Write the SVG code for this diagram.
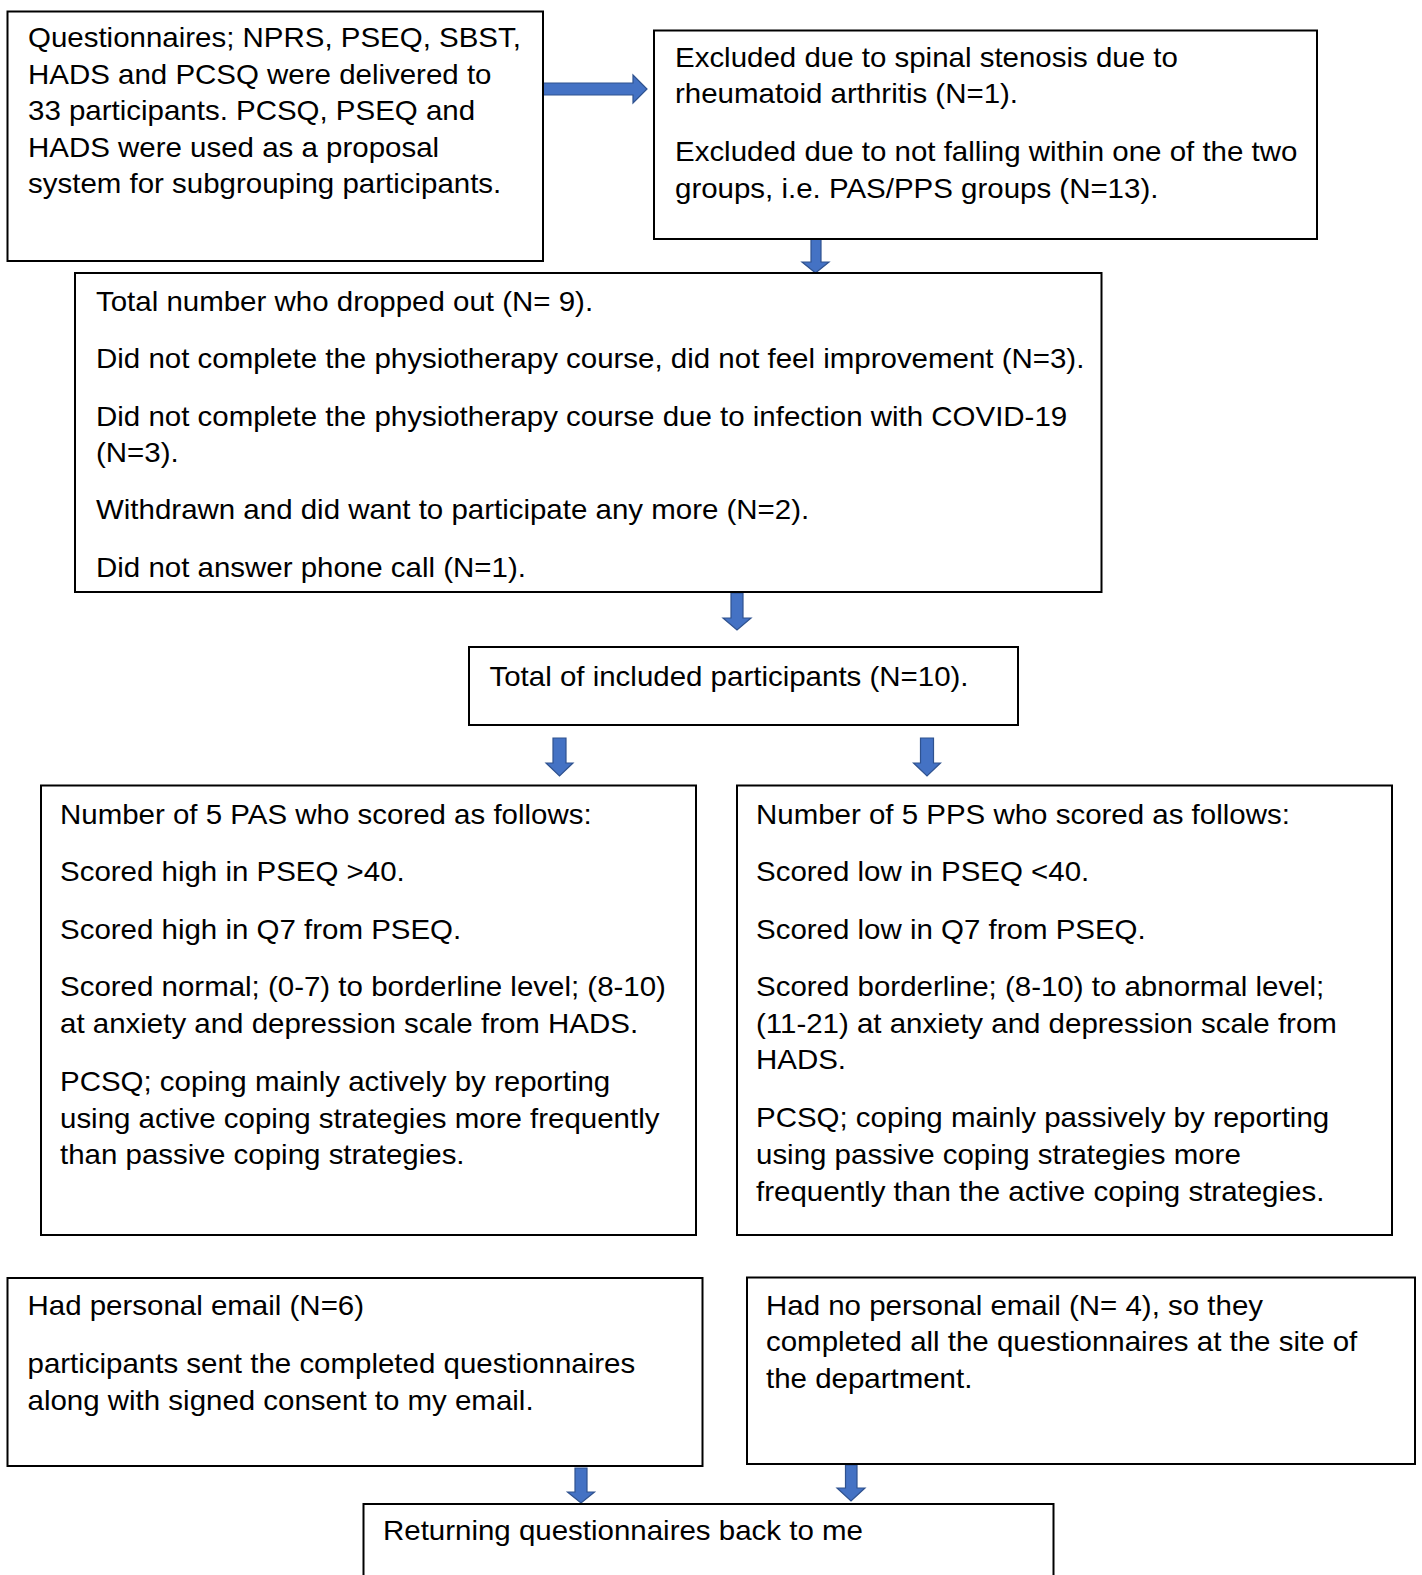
<svg xmlns="http://www.w3.org/2000/svg" width="1422" height="1575" viewBox="0 0 1422 1575">
<style>
.box{fill:#fff;stroke:#000;stroke-width:2}
.t{font-family:"Liberation Sans",Arial,sans-serif;font-size:27px;fill:#000}
.arr{fill:#4472C4;stroke:#2F528F;stroke-width:1.2;stroke-linejoin:miter}
</style>
<rect width="1422" height="1575" fill="#fff"/>
<g id="connectors">
<polygon class="arr" points="543,83 633,83 633,75 647,89 633,103 633,95 543,95"/>
<polygon class="arr" points="811,238 821,238 821,262 829,262 815.5,273 802,262 811,262"/>
<polygon class="arr" points="731,593 743,593 743,618 751,618 737,630 723,618 731,618"/>
<polygon class="arr" points="553,738 566,738 566,763 573,763 559.5,776 546,763 553,763"/>
<polygon class="arr" points="920.5,738 933.5,738 933.5,763 940.5,763 927,776 913.5,763 920.5,763"/>
<polygon class="arr" points="575,1468 587,1468 587,1492 594.5,1492 581,1503 567.5,1492 575,1492"/>
<polygon class="arr" points="845.5,1465 857,1465 857,1488 865,1488 851,1501 837,1488 845.5,1488"/>
</g>
<g id="n1">
<rect class="box" x="7.5" y="11.5" width="535.5" height="249.5"/>
<text class="t" transform="translate(28,47.3) scale(1.092,1)"><tspan x="0" y="0">Questionnaires; NPRS, PSEQ, SBST,</tspan><tspan x="0" y="36.5">HADS and PCSQ were delivered to</tspan><tspan x="0" y="73">33 participants. PCSQ, PSEQ and</tspan><tspan x="0" y="109.5">HADS were used as a proposal</tspan><tspan x="0" y="146">system for subgrouping participants.</tspan></text>
</g>
<g id="n2">
<rect class="box" x="654" y="30.5" width="663" height="208.5"/>
<text class="t" transform="translate(675,66.7) scale(1.092,1)"><tspan x="0" y="0">Excluded due to spinal stenosis due to</tspan><tspan x="0" y="36.6">rheumatoid arthritis (N=1).</tspan><tspan x="0" y="94.8">Excluded due to not falling within one of the two</tspan><tspan x="0" y="131.4">groups, i.e. PAS/PPS groups (N=13).</tspan></text>
</g>
<g id="n3">
<rect class="box" x="75" y="273" width="1026.5" height="319"/>
<text class="t" transform="translate(96,311) scale(1.092,1)"><tspan x="0" y="0">Total number who dropped out (N= 9).</tspan><tspan x="0" y="56.7">Did not complete the physiotherapy course, did not feel improvement (N=3).</tspan><tspan x="0" y="114.9">Did not complete the physiotherapy course due to infection with COVID-19</tspan><tspan x="0" y="151.5">(N=3).</tspan><tspan x="0" y="208.3">Withdrawn and did want to participate any more (N=2).</tspan><tspan x="0" y="266.5">Did not answer phone call (N=1).</tspan></text>
</g>
<g id="n4">
<rect class="box" x="469" y="647" width="549" height="78"/>
<text class="t" transform="translate(489.5,685.5) scale(1.092,1)"><tspan x="0" y="0">Total of included participants (N=10).</tspan></text>
</g>
<g id="n5">
<rect class="box" x="41" y="785.5" width="655" height="449.5"/>
<text class="t" transform="translate(60,824.3) scale(1.092,1)"><tspan x="0" y="0">Number of 5 PAS who scored as follows:</tspan><tspan x="0" y="56.5">Scored high in PSEQ &gt;40.</tspan><tspan x="0" y="114.5">Scored high in Q7 from PSEQ.</tspan><tspan x="0" y="171.7">Scored normal; (0-7) to borderline level; (8-10)</tspan><tspan x="0" y="208.7">at anxiety and depression scale from HADS.</tspan><tspan x="0" y="266.9">PCSQ; coping mainly actively by reporting</tspan><tspan x="0" y="303.4">using active coping strategies more frequently</tspan><tspan x="0" y="340.2">than passive coping strategies.</tspan></text>
</g>
<g id="n6">
<rect class="box" x="737" y="785.5" width="655" height="449.5"/>
<text class="t" transform="translate(756,824.3) scale(1.092,1)"><tspan x="0" y="0">Number of 5 PPS who scored as follows:</tspan><tspan x="0" y="56.5">Scored low in PSEQ &lt;40.</tspan><tspan x="0" y="114.5">Scored low in Q7 from PSEQ.</tspan><tspan x="0" y="171.7">Scored borderline; (8-10) to abnormal level;</tspan><tspan x="0" y="208.7">(11-21) at anxiety and depression scale from</tspan><tspan x="0" y="244.8">HADS.</tspan><tspan x="0" y="303.1">PCSQ; coping mainly passively by reporting</tspan><tspan x="0" y="340.2">using passive coping strategies more</tspan><tspan x="0" y="376.4">frequently than the active coping strategies.</tspan></text>
</g>
<g id="n7">
<rect class="box" x="7.5" y="1278" width="695" height="188"/>
<text class="t" transform="translate(27.5,1315) scale(1.092,1)"><tspan x="0" y="0">Had personal email (N=6)</tspan><tspan x="0" y="58">participants sent the completed questionnaires</tspan><tspan x="0" y="94.6">along with signed consent to my email.</tspan></text>
</g>
<g id="n8">
<rect class="box" x="747" y="1277.5" width="668" height="186.5"/>
<text class="t" transform="translate(766,1315.2) scale(1.092,1)"><tspan x="0" y="0">Had no personal email (N= 4), so they</tspan><tspan x="0" y="36.2">completed all the questionnaires at the site of</tspan><tspan x="0" y="73.3">the department.</tspan></text>
</g>
<g id="n9">
<rect class="box" x="363.5" y="1504" width="690" height="100"/>
<text class="t" transform="translate(383,1540) scale(1.092,1)"><tspan x="0" y="0">Returning questionnaires back to me</tspan></text>
</g>
</svg>
